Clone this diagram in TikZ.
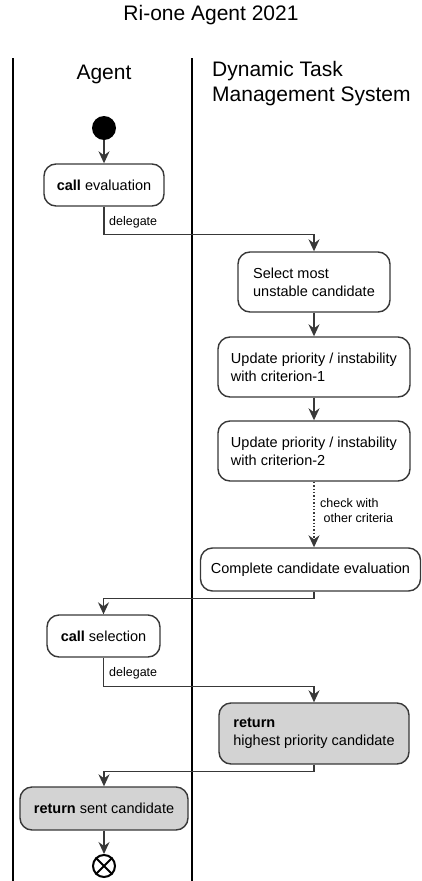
\documentclass[tikz,border=0pt]{standalone}
\usepackage{fontspec}
\setmainfont{Liberation Sans}
\usetikzlibrary{arrows.meta,calc}
\definecolor{lc}{RGB}{56,56,56}
\definecolor{gfill}{RGB}{211,211,211}
\begin{document}
\begin{tikzpicture}[x=1pt,y=-1pt,
  act/.style={draw=lc, line width=1.4pt, rounded corners=12pt, fill=white,
    font=\fontsize{14.5}{18}\selectfont, align=left, inner sep=0pt},
  gact/.style={act, fill=gfill},
  arr/.style={draw=lc, line width=1.4pt, -{Stealth[length=12pt,width=11pt,inset=4pt]}},
  lbl/.style={font=\fontsize{12.5}{15}\selectfont, inner sep=0pt, anchor=west, align=left},
  hdr/.style={font=\fontsize{21}{25}\selectfont, inner sep=0pt, align=left},
  lane/.style={line width=2pt, black}
]
\useasboundingbox (0,0) rectangle (422,881);
% title
\node[font=\fontsize{21}{25}\selectfont, inner sep=0pt] (title) at (211,15) {Ri-one Agent 2021};
% lanes
\coordinate (l1t) at (13,58);
\coordinate (l1b) at (13,881);
\coordinate (l2t) at (192,58);
\coordinate (l2b) at (192,881);
\draw[lane] (l1t) -- (l1b);
\draw[lane] (l2t) -- (l2b);
\node[hdr] (hA) at (104,74) {Agent};
\node[hdr, anchor=north west] (hD) at (212,61) {Dynamic Task\\Management System};
% nodes
\node[circle, fill=black, minimum size=24pt, inner sep=0pt] (start) at (104,128) {};
\node[act, minimum width=120pt, minimum height=42pt] (ce) at (104,185) {{\bfseries call} evaluation};
\node[act, minimum width=152pt, minimum height=60pt] (sel) at (314,282) {Select most\\unstable candidate};
\node[act, minimum width=192pt, minimum height=60pt] (u1) at (314,367) {Update priority / instability\\with criterion-1};
\node[act, minimum width=192pt, minimum height=60pt] (u2) at (314,451) {Update priority / instability\\with criterion-2};
\node[act, minimum width=220pt, minimum height=43pt] (comp) at (310.5,569.5) {Complete candidate evaluation};
\node[act, minimum width=113pt, minimum height=42pt] (cs) at (103.5,636) {{\bfseries call} selection};
\node[gact, minimum width=190pt, minimum height=61pt] (ret) at (314,733.5) {{\bfseries return}\\highest priority candidate};
\node[gact, minimum width=168pt, minimum height=43pt] (rs) at (104,808.5) {{\bfseries return} sent candidate};
\node[circle, draw=black, line width=2pt, minimum size=22pt, inner sep=0pt, fill=white] (end) at (104,866) {};
\draw[line width=2pt] (end.north east) -- (end.south west) (end.north west) -- (end.south east);
% connectors
\draw[arr] (start) -- (ce);
\draw[arr] (ce.south) -- ++(0,28) -| (sel.north);
\node[lbl] (d1) at (109,222) {delegate};
\draw[arr] (sel) -- (u1);
\draw[arr] (u1) -- (u2);
\draw[arr, dotted] (u2.south) -- (u2.south |- comp.north);
\node[lbl] (chk) at (320,511) {check with\\\ other criteria};
\draw[arr] (comp.south -| u2.south) -- ++(0,7) -| (cs.north);
\draw[arr] (cs.south) -- ++(0,29) -| (ret.north);
\node[lbl] (d2) at (109,673) {delegate};
\draw[arr] (ret.south) -- ++(0,7) -| (rs.north);
\draw[arr] (rs) -- (end);
\end{tikzpicture}
\end{document}
